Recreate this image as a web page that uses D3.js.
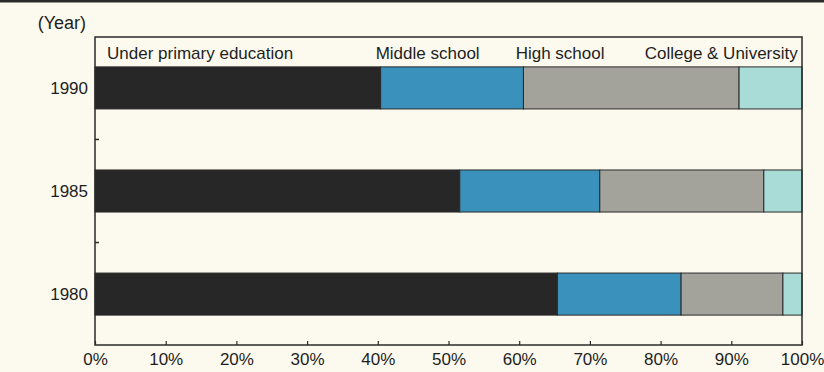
<!DOCTYPE html>
<html>
<head>
<meta charset="utf-8">
<script src="https://cdn.jsdelivr.net/npm/d3@7/dist/d3.min.js"></script>
<style>
  body { margin: 0; background: #fcfaef; }
  svg { display: block; font-family: "Liberation Sans", Arial, sans-serif; }
</style>
</head>
<body>
<div id="chart"></div>
<script>
// data (percent of each year)
var years = ["1990", "1985", "1980"];
var levels = ["Under primary education", "Middle school", "High school", "College & University"];
var primary = [40.4, 51.6, 65.4];
var middle  = [20.2, 19.8, 17.5];
var high    = [30.5, 23.2, 14.4];
var college = [8.9, 5.4, 2.7];
var xTicks = [0, 10, 20, 30, 40, 50, 60, 70, 80, 90, 100];

var colors = ["#272727", "#3a91bb", "#a3a29b", "#a9dcd7"];

var width = 824, height = 372;
var margin = {top: 37, right: 22, bottom: 27, left: 95};

var svg = d3.select("#chart").append("svg")
    .attr("width", width)
    .attr("height", height);

// top rule of the page
svg.append("rect")
    .attr("x", 0).attr("y", 0)
    .attr("width", width).attr("height", 2.5)
    .attr("fill", "#2b2b2b");

var x = d3.scaleLinear()
    .domain([0, 100])
    .range([margin.left, width - margin.right]);

var y = d3.scaleBand()
    .domain(years)
    .range([margin.top, height - margin.bottom])
    .paddingInner(0.592)
    .paddingOuter(0.29);

// build stacked rows
var rows = years.map(function(yr, i) {
    return {year: yr, primary: primary[i], middle: middle[i], high: high[i], college: college[i]};
});
var keys = ["primary", "middle", "high", "college"];
var stack = d3.stack().keys(keys)(rows);

svg.append("g")
    .selectAll("g")
    .data(stack)
    .enter().append("g")
    .attr("fill", function(d, i) { return colors[i]; })
    .selectAll("rect")
    .data(function(d) { return d; })
    .enter().append("rect")
    .attr("x", function(d) { return x(d[0]); })
    .attr("y", function(d) { return y(d.data.year); })
    .attr("width", function(d) { return x(Math.min(d[1], 100)) - x(d[0]); })
    .attr("height", y.bandwidth())
    .attr("stroke", "#2a2a2a")
    .attr("stroke-width", 1);

// plot frame
svg.append("rect")
    .attr("x", x(0)).attr("y", margin.top)
    .attr("width", x(100) - x(0))
    .attr("height", height - margin.bottom - margin.top)
    .attr("fill", "none")
    .attr("stroke", "#2a2a2a")
    .attr("stroke-width", 1.5);

// y ticks between the bars
var step = y.step();
svg.append("g")
    .selectAll("line")
    .data(years.slice(1))
    .enter().append("line")
    .attr("x1", x(0)).attr("x2", x(0) + 4)
    .attr("y1", function(d) { return y(d) - (step - y.bandwidth()) / 2; })
    .attr("y2", function(d) { return y(d) - (step - y.bandwidth()) / 2; })
    .attr("stroke", "#2a2a2a")
    .attr("stroke-width", 1.5);

// x axis with inward ticks
var xAxis = svg.append("g")
    .attr("transform", "translate(0," + (height - margin.bottom) + ")")
    .call(d3.axisBottom(x).tickValues(xTicks).tickSize(-4).tickPadding(8)
        .tickFormat(function(d) { return d + "%"; }));
xAxis.select(".domain").remove();
xAxis.selectAll("line").attr("stroke", "#2a2a2a").attr("stroke-width", 1.2);
xAxis.selectAll("text")
    .attr("font-size", 17)
    .attr("fill", "#1e1e1e")
    .attr("dy", "0.71em");

// year labels
svg.append("g")
    .selectAll("text")
    .data(years)
    .enter().append("text")
    .attr("x", x(0) - 7)
    .attr("y", function(d) { return y(d) + y.bandwidth() / 2; })
    .attr("dy", "0.36em")
    .attr("text-anchor", "end")
    .attr("font-size", 17)
    .attr("fill", "#1e1e1e")
    .text(function(d) { return d; });

svg.append("text")
    .attr("x", 86).attr("y", 29)
    .attr("text-anchor", "end")
    .attr("font-size", 18)
    .attr("fill", "#1e1e1e")
    .text("(Year)");

// legend labels along the top of the frame
var legendAt = [[1.7, "start"], [39.7, "start"], [59.5, "start"], [99.4, "end"]];
svg.append("g")
    .selectAll("text")
    .data(levels)
    .enter().append("text")
    .attr("x", function(d, i) { return x(legendAt[i][0]); })
    .attr("y", 59)
    .attr("text-anchor", function(d, i) { return legendAt[i][1]; })
    .attr("font-size", 17)
    .attr("fill", "#1e1e1e")
    .text(function(d) { return d; });
</script>
</body>
</html>
